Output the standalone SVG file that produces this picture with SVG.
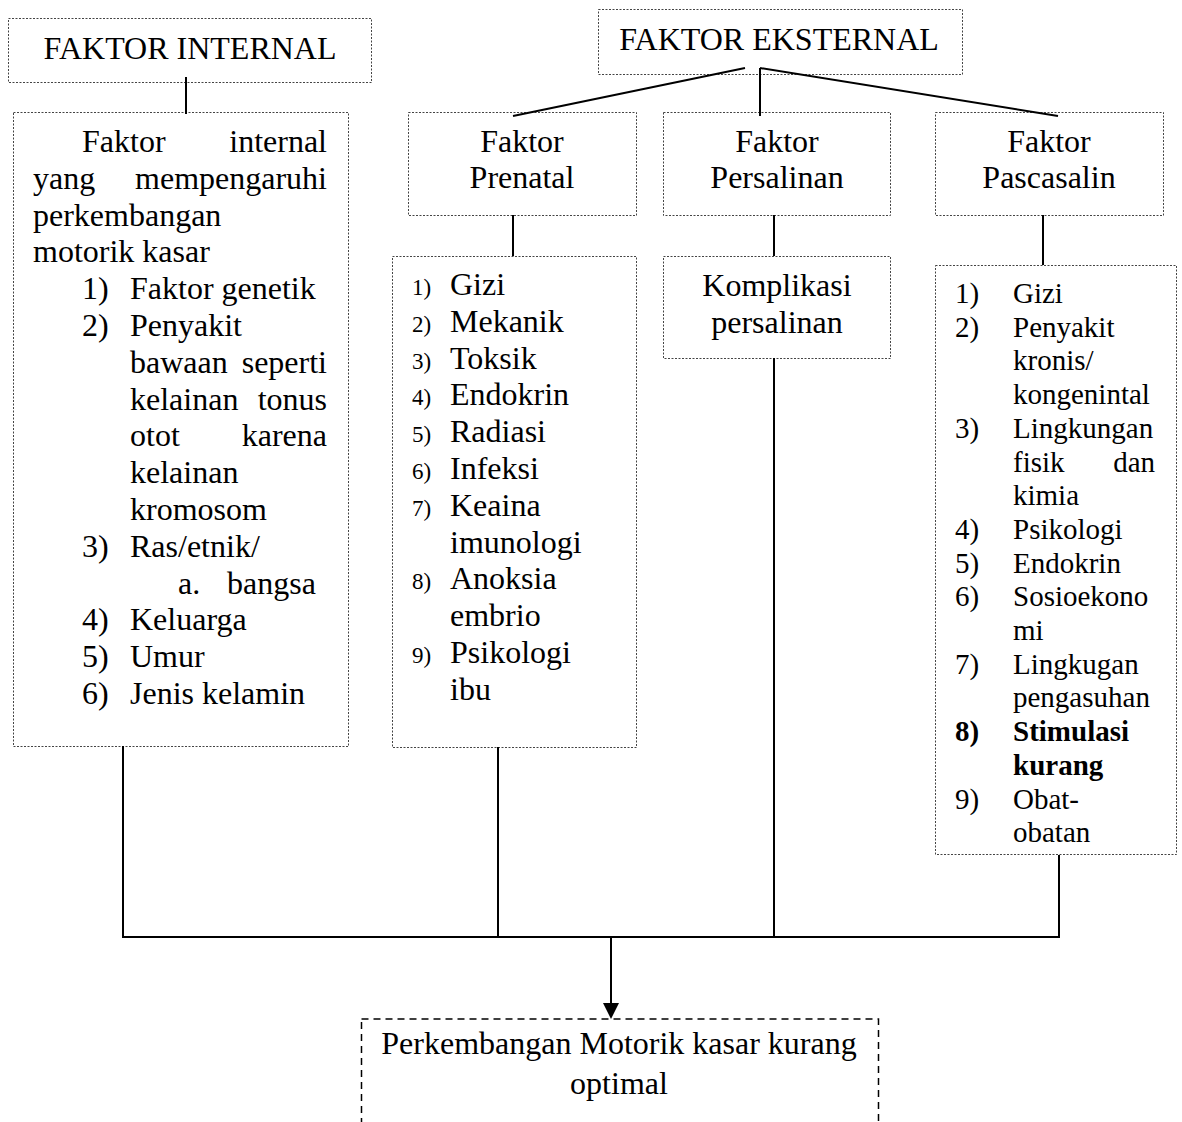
<svg xmlns="http://www.w3.org/2000/svg" width="1182" height="1122" viewBox="0 0 1182 1122">
  <style>
    text { font-family: "Liberation Serif", "Times New Roman", serif; fill: #000; }
    .t32 { font-size: 32px; }
    .t29 { font-size: 29px; }
    .num { font-size: 23px; }
    .mid { text-anchor: middle; }
    .end { text-anchor: end; }
    .b { font-weight: bold; }
    .box { fill: none; stroke: #444; stroke-width: 1; stroke-dasharray: 2 1.5; }
    .outbox { fill: none; stroke: #000; stroke-width: 1.5; stroke-dasharray: 7 5; }
    .link { fill: none; stroke: #000; stroke-width: 2; }
  </style>

  <!-- FAKTOR INTERNAL -->
  <g id="faktor-internal">
    <rect class="box" x="8.5" y="18.5" width="363" height="64"/>
    <text class="t32 mid" x="190" y="59">FAKTOR INTERNAL</text>
  </g>

  <!-- internal factors list -->
  <g id="internal-list">
    <rect class="box" x="13.5" y="112.5" width="335" height="634"/>
    <g class="t32">
      <text x="82" y="152">Faktor</text>
      <text class="end" x="327" y="152">internal</text>
      <text x="33" y="188.8">yang</text>
      <text class="end" x="327" y="188.8">mempengaruhi</text>
      <text x="33" y="225.6">perkembangan</text>
      <text x="33" y="262.4">motorik kasar</text>
      <text x="82" y="299.2">1)</text><text x="130" y="299.2">Faktor genetik</text>
      <text x="82" y="336">2)</text><text x="130" y="336">Penyakit</text>
      <text x="130" y="372.8">bawaan</text><text class="end" x="327" y="372.8">seperti</text>
      <text x="130" y="409.6">kelainan</text><text class="end" x="327" y="409.6">tonus</text>
      <text x="130" y="446.4">otot</text><text class="end" x="327" y="446.4">karena</text>
      <text x="130" y="483.2">kelainan</text>
      <text x="130" y="520">kromosom</text>
      <text x="82" y="556.8">3)</text><text x="130" y="556.8">Ras/etnik/</text>
      <text x="178" y="593.6">a.</text><text x="227" y="593.6">bangsa</text>
      <text x="82" y="630.4">4)</text><text x="130" y="630.4">Keluarga</text>
      <text x="82" y="667.2">5)</text><text x="130" y="667.2">Umur</text>
      <text x="82" y="704">6)</text><text x="130" y="704">Jenis kelamin</text>
    </g>
  </g>

  <!-- FAKTOR EKSTERNAL -->
  <g id="faktor-eksternal">
    <rect class="box" x="598.5" y="9.5" width="364" height="65"/>
    <text class="t32 mid" x="779" y="50">FAKTOR EKSTERNAL</text>
  </g>

  <!-- prenatal -->
  <g id="faktor-prenatal">
    <rect class="box" x="408.5" y="112.5" width="228" height="103"/>
    <text class="t32 mid" x="522" y="152">Faktor</text>
    <text class="t32 mid" x="522" y="188">Prenatal</text>
  </g>
  <g id="prenatal-list">
    <rect class="box" x="392.5" y="256.5" width="244" height="491"/>
    <g class="num">
      <text x="412" y="295">1)</text>
      <text x="412" y="331.8">2)</text>
      <text x="412" y="368.6">3)</text>
      <text x="412" y="405.4">4)</text>
      <text x="412" y="442.2">5)</text>
      <text x="412" y="479">6)</text>
      <text x="412" y="515.8">7)</text>
      <text x="412" y="589.4">8)</text>
      <text x="412" y="663">9)</text>
    </g>
    <g class="t32">
      <text x="450" y="295">Gizi</text>
      <text x="450" y="331.8">Mekanik</text>
      <text x="450" y="368.6">Toksik</text>
      <text x="450" y="405.4">Endokrin</text>
      <text x="450" y="442.2">Radiasi</text>
      <text x="450" y="479">Infeksi</text>
      <text x="450" y="515.8">Keaina</text>
      <text x="450" y="552.6">imunologi</text>
      <text x="450" y="589.4">Anoksia</text>
      <text x="450" y="626.2">embrio</text>
      <text x="450" y="663">Psikologi</text>
      <text x="450" y="699.8">ibu</text>
    </g>
  </g>

  <!-- persalinan -->
  <g id="faktor-persalinan">
    <rect class="box" x="663.5" y="112.5" width="227" height="103"/>
    <text class="t32 mid" x="777" y="152">Faktor</text>
    <text class="t32 mid" x="777" y="188">Persalinan</text>
  </g>
  <g id="komplikasi">
    <rect class="box" x="663.5" y="256.5" width="227" height="102"/>
    <text class="t32 mid" x="777" y="296">Komplikasi</text>
    <text class="t32 mid" x="777" y="333">persalinan</text>
  </g>

  <!-- pascasalin -->
  <g id="faktor-pascasalin">
    <rect class="box" x="935.5" y="112.5" width="228" height="103"/>
    <text class="t32 mid" x="1049" y="152">Faktor</text>
    <text class="t32 mid" x="1049" y="188">Pascasalin</text>
  </g>
  <g id="pascasalin-list">
    <rect class="box" x="935.5" y="265.5" width="241" height="589"/>
    <g class="t29">
      <text x="955" y="303">1)</text><text x="1013" y="303">Gizi</text>
      <text x="955" y="336.7">2)</text><text x="1013" y="336.7">Penyakit</text>
      <text x="1013" y="370.4">kronis/</text>
      <text x="1013" y="404.1">kongenintal</text>
      <text x="955" y="437.8">3)</text><text x="1013" y="437.8">Lingkungan</text>
      <text x="1013" y="471.5">fisik</text><text class="end" x="1155" y="471.5">dan</text>
      <text x="1013" y="505.2">kimia</text>
      <text x="955" y="538.9">4)</text><text x="1013" y="538.9">Psikologi</text>
      <text x="955" y="572.6">5)</text><text x="1013" y="572.6">Endokrin</text>
      <text x="955" y="606.3">6)</text><text x="1013" y="606.3">Sosioekono</text>
      <text x="1013" y="640">mi</text>
      <text x="955" y="673.7">7)</text><text x="1013" y="673.7">Lingkugan</text>
      <text x="1013" y="707.4">pengasuhan</text>
      <text class="b" x="955" y="741.1">8)</text><text class="b" x="1013" y="741.1">Stimulasi</text>
      <text class="b" x="1013" y="774.8">kurang</text>
      <text x="955" y="808.5">9)</text><text x="1013" y="808.5">Obat-</text>
      <text x="1013" y="842.2">obatan</text>
    </g>
  </g>

  <!-- outcome -->
  <g id="outcome">
    <rect class="outbox" x="361.5" y="1019" width="517" height="130"/>
    <text class="t32 mid" x="619" y="1054">Perkembangan Motorik kasar kurang</text>
    <text class="t32 mid" x="619" y="1094">optimal</text>
  </g>

  <!-- connectors, drawn over the box outlines -->
  <g id="connectors">
    <line class="link" x1="186" y1="77" x2="186" y2="114"/>
    <line class="link" x1="745" y1="68" x2="513" y2="116"/>
    <line class="link" x1="760" y1="68" x2="760" y2="116"/>
    <line class="link" x1="760" y1="68" x2="1058" y2="116"/>
    <line class="link" x1="513" y1="215" x2="513" y2="256"/>
    <line class="link" x1="774" y1="215" x2="774" y2="256"/>
    <line class="link" x1="1043" y1="215" x2="1043" y2="265"/>
    <polyline class="link" points="123,746 123,937 1059,937 1059,855"/>
    <line class="link" x1="498" y1="747" x2="498" y2="937"/>
    <line class="link" x1="774" y1="358" x2="774" y2="937"/>
    <line class="link" x1="611" y1="937" x2="611" y2="1005"/>
    <polygon points="603,1003 619,1003 611,1019" fill="#000"/>
  </g>
</svg>
